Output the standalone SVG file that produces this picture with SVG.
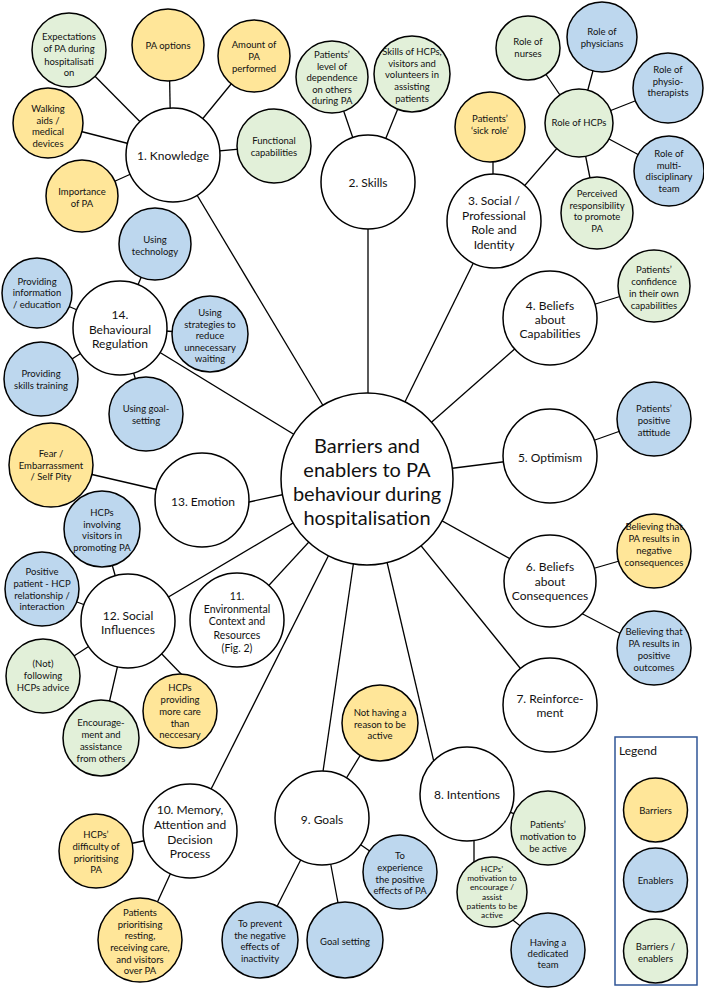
<svg xmlns="http://www.w3.org/2000/svg" width="704" height="994" viewBox="0 0 704 994">
<style>
circle{stroke:#000;stroke-width:1.5}
.w{fill:#fff}.y{fill:#FFE699}.b{fill:#BDD7EE}.g{fill:#E2F0D9}
text{font-family:Lato,"Liberation Sans",sans-serif;text-anchor:middle;dominant-baseline:central;fill:#111}
.t1{font-size:20px}.t2{font-size:12px}.t3{font-size:9.5px}.t4{font-size:8.4px}.t5{font-size:10.5px}
#connectors line{stroke:#000;stroke-width:1.3}
</style>
<rect width="704" height="994" fill="#fff"/>
<g id="connectors">
<line x1="173" y1="155" x2="367" y2="479"/>
<line x1="368" y1="182" x2="368" y2="479"/>
<line x1="494" y1="221" x2="367" y2="479"/>
<line x1="550" y1="318" x2="367" y2="479"/>
<line x1="550" y1="456" x2="367" y2="479"/>
<line x1="550" y1="581" x2="367" y2="479"/>
<line x1="550" y1="705" x2="367" y2="479"/>
<line x1="383" y1="545" x2="437" y2="775"/>
<line x1="356" y1="546" x2="321" y2="785"/>
<line x1="190" y1="831" x2="367" y2="479"/>
<line x1="237" y1="620" x2="367" y2="479"/>
<line x1="128" y1="621" x2="367" y2="479"/>
<line x1="295" y1="492" x2="240" y2="504"/>
<line x1="120" y1="328" x2="367" y2="479"/>
<line x1="69" y1="50" x2="173" y2="155"/>
<line x1="169" y1="45" x2="171" y2="155"/>
<line x1="254" y1="56" x2="173" y2="155"/>
<line x1="48" y1="123" x2="173" y2="155"/>
<line x1="274" y1="146" x2="173" y2="155"/>
<line x1="82" y1="196" x2="173" y2="155"/>
<line x1="332" y1="77" x2="368" y2="182"/>
<line x1="412" y1="74" x2="368" y2="182"/>
<line x1="493" y1="127" x2="493" y2="221"/>
<line x1="579" y1="123" x2="494" y2="221"/>
<line x1="579" y1="123" x2="528" y2="48"/>
<line x1="579" y1="123" x2="602" y2="37"/>
<line x1="579" y1="123" x2="668" y2="88"/>
<line x1="579" y1="123" x2="669" y2="171"/>
<line x1="579" y1="123" x2="597" y2="213"/>
<line x1="550" y1="318" x2="654" y2="286"/>
<line x1="550" y1="456" x2="654" y2="419"/>
<line x1="550" y1="581" x2="654" y2="551"/>
<line x1="575" y1="610" x2="627" y2="637"/>
<line x1="467" y1="794" x2="548" y2="828"/>
<line x1="474" y1="835" x2="474" y2="862"/>
<line x1="500" y1="910" x2="528" y2="932"/>
<line x1="322" y1="818" x2="380" y2="723"/>
<line x1="322" y1="818" x2="400" y2="872"/>
<line x1="322" y1="818" x2="260" y2="940"/>
<line x1="322" y1="818" x2="345" y2="940"/>
<line x1="190" y1="831" x2="96" y2="851"/>
<line x1="190" y1="831" x2="140" y2="940"/>
<line x1="128" y1="621" x2="102" y2="529"/>
<line x1="128" y1="621" x2="42" y2="589"/>
<line x1="128" y1="621" x2="43" y2="676"/>
<line x1="128" y1="621" x2="101" y2="738"/>
<line x1="156" y1="648" x2="186" y2="679"/>
<line x1="202" y1="500" x2="51" y2="465"/>
<line x1="120" y1="328" x2="155" y2="244"/>
<line x1="120" y1="328" x2="37" y2="293"/>
<line x1="120" y1="328" x2="210" y2="334"/>
<line x1="120" y1="328" x2="41" y2="379"/>
<line x1="120" y1="328" x2="146" y2="414"/>
</g>

<g id="center"><circle class="w" cx="367" cy="479" r="86"/><text class="t1"><tspan x="367" y="445">Barriers and</tspan><tspan x="367" y="469">enablers to PA</tspan><tspan x="367" y="493">behaviour during</tspan><tspan x="367" y="517">hospitalisation</tspan></text></g>

<g id="c1"><circle class="w" cx="173" cy="155" r="47"/><text class="t2" x="173" y="155">1. Knowledge</text></g>
<g id="c2"><circle class="w" cx="368" cy="182" r="47"/><text class="t2" x="368" y="182">2. Skills</text></g>
<g id="c3"><circle class="w" cx="494" cy="221" r="47"/><text class="t2"><tspan x="494" y="200">3. Social /</tspan><tspan x="494" y="214.5">Professional</tspan><tspan x="494" y="229">Role and</tspan><tspan x="494" y="243.5">Identity</tspan></text></g>
<g id="c4"><circle class="w" cx="550" cy="318" r="47"/><text class="t2"><tspan x="550" y="305">4. Beliefs</tspan><tspan x="550" y="319">about</tspan><tspan x="550" y="333">Capabilities</tspan></text></g>
<g id="c5"><circle class="w" cx="550" cy="456" r="47"/><text class="t2" x="550" y="457">5. Optimism</text></g>
<g id="c6"><circle class="w" cx="550" cy="581" r="46"/><text class="t2"><tspan x="550" y="566">6. Beliefs</tspan><tspan x="550" y="581">about</tspan><tspan x="550" y="595">Consequences</tspan></text></g>
<g id="c7"><circle class="w" cx="550" cy="705" r="47"/><text class="t2"><tspan x="550" y="698">7. Reinforce-</tspan><tspan x="550" y="712">ment</tspan></text></g>
<g id="c8"><circle class="w" cx="467" cy="794" r="47"/><text class="t2" x="467" y="794">8. Intentions</text></g>
<g id="c9"><circle class="w" cx="322" cy="818" r="47"/><text class="t2" x="322" y="819">9. Goals</text></g>
<g id="c10"><circle class="w" cx="190" cy="831" r="47"/><text class="t2"><tspan x="190" y="809">10. Memory,</tspan><tspan x="190" y="824">Attention and</tspan><tspan x="190" y="839">Decision</tspan><tspan x="190" y="853">Process</tspan></text></g>
<g id="c11"><circle class="w" cx="237" cy="620" r="47"/><text class="t5"><tspan x="237" y="596">11.</tspan><tspan x="237" y="608.5">Environmental</tspan><tspan x="237" y="621">Context and</tspan><tspan x="237" y="634.5">Resources</tspan><tspan x="237" y="647.5">(Fig. 2)</tspan></text></g>
<g id="c12"><circle class="w" cx="128" cy="621" r="47"/><text class="t2"><tspan x="128" y="615">12. Social</tspan><tspan x="128" y="628.5">Influences</tspan></text></g>
<g id="c13"><circle class="w" cx="202" cy="500" r="47"/><text class="t2" x="203" y="501">13. Emotion</text></g>
<g id="c14"><circle class="w" cx="120" cy="328" r="47"/><text class="t2"><tspan x="120" y="314">14.</tspan><tspan x="120" y="328.5">Behavioural</tspan><tspan x="120" y="343">Regulation</tspan></text></g>

<g id="k1"><circle class="g" cx="69" cy="50" r="37"/><text class="t3"><tspan x="69" y="36">Expectations</tspan><tspan x="69" y="48">of PA during</tspan><tspan x="69" y="60.5">hospitalisati</tspan><tspan x="69" y="72">on</tspan></text></g>
<g id="k2"><circle class="y" cx="168" cy="45" r="36"/><text class="t3" x="168" y="45">PA options</text></g>
<g id="k3"><circle class="y" cx="254" cy="56" r="36"/><text class="t3"><tspan x="254" y="44">Amount of</tspan><tspan x="254" y="56">PA</tspan><tspan x="254" y="68">performed</tspan></text></g>
<g id="k4"><circle class="y" cx="48" cy="123" r="35"/><text class="t3"><tspan x="48" y="108">Walking</tspan><tspan x="48" y="119.5">aids /</tspan><tspan x="48" y="131">medical</tspan><tspan x="48" y="143">devices</tspan></text></g>
<g id="k5"><circle class="g" cx="274" cy="146" r="37"/><text class="t3"><tspan x="274" y="140">Functional</tspan><tspan x="274" y="152">capabilities</tspan></text></g>
<g id="k6"><circle class="y" cx="82" cy="196" r="36"/><text class="t3"><tspan x="82" y="191">Importance</tspan><tspan x="82" y="203">of PA</tspan></text></g>

<g id="s1"><circle class="g" cx="332" cy="77" r="36"/><text class="t3"><tspan x="332" y="54">Patients’</tspan><tspan x="332" y="65.5">level of</tspan><tspan x="332" y="77">dependence</tspan><tspan x="332" y="88.5">on others</tspan><tspan x="332" y="100">during PA</tspan></text></g>
<g id="s2"><circle class="g" cx="412" cy="74" r="38"/><text class="t3"><tspan x="412" y="51">Skills of HCPs,</tspan><tspan x="412" y="62.5">visitors and</tspan><tspan x="412" y="74">volunteers in</tspan><tspan x="412" y="86">assisting</tspan><tspan x="412" y="97.5">patients</tspan></text></g>

<g id="r0"><circle class="g" cx="579" cy="123" r="34"/><text class="t3" x="579" y="122">Role of HCPs</text></g>
<g id="r1"><circle class="g" cx="528" cy="48" r="32"/><text class="t3"><tspan x="528" y="41">Role of</tspan><tspan x="528" y="52.5">nurses</tspan></text></g>
<g id="r2"><circle class="b" cx="602" cy="37" r="35"/><text class="t3"><tspan x="602" y="31">Role of</tspan><tspan x="602" y="43">physicians</tspan></text></g>
<g id="r3"><circle class="b" cx="668" cy="88" r="35"/><text class="t3"><tspan x="668" y="68.5">Role of</tspan><tspan x="668" y="80.5">physio-</tspan><tspan x="668" y="92">therapists</tspan></text></g>
<g id="r4"><circle class="b" cx="669" cy="171" r="35"/><text class="t3"><tspan x="669" y="153">Role of</tspan><tspan x="669" y="164.5">multi-</tspan><tspan x="669" y="176">disciplinary</tspan><tspan x="669" y="188">team</tspan></text></g>
<g id="r5"><circle class="g" cx="597" cy="213" r="36"/><text class="t3"><tspan x="597" y="193">Perceived</tspan><tspan x="597" y="204.5">responsibility</tspan><tspan x="597" y="216">to promote</tspan><tspan x="597" y="227.5">PA</tspan></text></g>
<g id="r6"><circle class="y" cx="490" cy="127" r="35"/><text class="t3"><tspan x="490" y="118">Patients’</tspan><tspan x="490" y="130">‘sick role’</tspan></text></g>

<g id="b4"><circle class="g" cx="654" cy="286" r="36"/><text class="t3"><tspan x="654" y="269">Patients’</tspan><tspan x="654" y="281">confidence</tspan><tspan x="654" y="293">in their own</tspan><tspan x="654" y="304.5">capabilities</tspan></text></g>
<g id="o5"><circle class="b" cx="654" cy="419" r="37"/><text class="t3"><tspan x="654" y="408">Patients’</tspan><tspan x="654" y="420">positive</tspan><tspan x="654" y="432">attitude</tspan></text></g>
<g id="b6a"><circle class="y" cx="654" cy="551" r="37"/><text class="t3"><tspan x="654" y="526">Believing that</tspan><tspan x="654" y="538">PA results in</tspan><tspan x="654" y="550">negative</tspan><tspan x="654" y="562">consequences</tspan></text></g>
<g id="b6b"><circle class="b" cx="654" cy="648" r="37"/><text class="t3"><tspan x="654" y="631">Believing that</tspan><tspan x="654" y="643">PA results in</tspan><tspan x="654" y="655">positive</tspan><tspan x="654" y="667">outcomes</tspan></text></g>

<g id="i8a"><circle class="g" cx="548" cy="828" r="37"/><text class="t3"><tspan x="548" y="824">Patients’</tspan><tspan x="548" y="836">motivation to</tspan><tspan x="548" y="848">be active</tspan></text></g>
<g id="i8b"><circle class="g" cx="492" cy="892" r="35"/><text class="t4"><tspan x="492" y="869">HCPs’</tspan><tspan x="492" y="878.2">motivation to</tspan><tspan x="492" y="887.4">encourage /</tspan><tspan x="492" y="896.6">assist</tspan><tspan x="492" y="905.8">patients to be</tspan><tspan x="492" y="915">active</tspan></text></g>
<g id="i8c"><circle class="b" cx="548" cy="950" r="37"/><text class="t3"><tspan x="548" y="942">Having a</tspan><tspan x="548" y="953">dedicated</tspan><tspan x="548" y="964">team</tspan></text></g>

<g id="g9a"><circle class="y" cx="380" cy="723" r="38"/><text class="t3"><tspan x="380" y="712">Not having a</tspan><tspan x="380" y="723.5">reason to be</tspan><tspan x="380" y="735">active</tspan></text></g>
<g id="g9b"><circle class="b" cx="400" cy="872" r="37"/><text class="t3"><tspan x="400" y="855">To</tspan><tspan x="400" y="867">experience</tspan><tspan x="400" y="878.5">the positive</tspan><tspan x="400" y="890">effects of PA</tspan></text></g>
<g id="g9c"><circle class="b" cx="260" cy="940" r="38"/><text class="t3"><tspan x="260" y="923">To prevent</tspan><tspan x="260" y="934.5">the negative</tspan><tspan x="260" y="946">effects of</tspan><tspan x="260" y="958">inactivity</tspan></text></g>
<g id="g9d"><circle class="b" cx="345" cy="940" r="38"/><text class="t3" x="345" y="941">Goal setting</text></g>

<g id="m10a"><circle class="y" cx="96" cy="851" r="37"/><text class="t3"><tspan x="96" y="834">HCPs’</tspan><tspan x="96" y="846">difficulty of</tspan><tspan x="96" y="857.5">prioritising</tspan><tspan x="96" y="869">PA</tspan></text></g>
<g id="m10b"><circle class="y" cx="140" cy="940" r="42"/><text class="t3"><tspan x="140" y="912">Patients</tspan><tspan x="140" y="923.5">prioritising</tspan><tspan x="140" y="935">resting,</tspan><tspan x="140" y="947">receiving care,</tspan><tspan x="140" y="958.5">and visitors</tspan><tspan x="140" y="970">over PA</tspan></text></g>

<g id="s12a"><circle class="b" cx="102" cy="529" r="38"/><text class="t3"><tspan x="102" y="512">HCPs</tspan><tspan x="102" y="523.5">involving</tspan><tspan x="102" y="535">visitors in</tspan><tspan x="102" y="547">promoting PA</tspan></text></g>
<g id="s12b"><circle class="b" cx="42" cy="589" r="37"/><text class="t3"><tspan x="42" y="571">Positive</tspan><tspan x="42" y="583">patient - HCP</tspan><tspan x="42" y="594.5">relationship /</tspan><tspan x="42" y="606">interaction</tspan></text></g>
<g id="s12c"><circle class="g" cx="43" cy="676" r="37"/><text class="t3"><tspan x="43" y="663">(Not)</tspan><tspan x="43" y="675">following</tspan><tspan x="43" y="687">HCPs advice</tspan></text></g>
<g id="s12d"><circle class="g" cx="101" cy="738" r="38"/><text class="t3"><tspan x="101" y="722">Encourage-</tspan><tspan x="101" y="734">ment and</tspan><tspan x="101" y="746">assistance</tspan><tspan x="101" y="757.5">from others</tspan></text></g>
<g id="s12e"><circle class="y" cx="180" cy="711" r="37"/><text class="t3"><tspan x="180" y="687">HCPs</tspan><tspan x="180" y="699">providing</tspan><tspan x="180" y="711">more care</tspan><tspan x="180" y="722.5">than</tspan><tspan x="180" y="734">neccesary</tspan></text></g>

<g id="e13"><circle class="y" cx="51" cy="465" r="42"/><text class="t3"><tspan x="51" y="453">Fear /</tspan><tspan x="51" y="464.5">Embarrassment</tspan><tspan x="51" y="476">/ Self Pity</tspan></text></g>

<g id="br14a"><circle class="b" cx="155" cy="244" r="36"/><text class="t3"><tspan x="155" y="239">Using</tspan><tspan x="155" y="251">technology</tspan></text></g>
<g id="br14b"><circle class="b" cx="37" cy="293" r="35"/><text class="t3"><tspan x="37" y="281">Providing</tspan><tspan x="37" y="292">information</tspan><tspan x="37" y="303.5">/ education</tspan></text></g>
<g id="br14c"><circle class="b" cx="210" cy="334" r="38"/><text class="t3"><tspan x="210" y="312">Using</tspan><tspan x="210" y="323.5">strategies to</tspan><tspan x="210" y="335">reduce</tspan><tspan x="210" y="347">unnecessary</tspan><tspan x="210" y="358">waiting</tspan></text></g>
<g id="br14d"><circle class="b" cx="41" cy="379" r="37"/><text class="t3"><tspan x="41" y="373">Providing</tspan><tspan x="41" y="384.5">skills training</tspan></text></g>
<g id="br14e"><circle class="b" cx="146" cy="414" r="37"/><text class="t3"><tspan x="146" y="408">Using goal-</tspan><tspan x="146" y="420">setting</tspan></text></g>

<g id="legend">
<rect x="615" y="737" width="82" height="248" fill="#fff" stroke="#2F5597" stroke-width="1.5"/>
<text class="t2" x="619" y="750" style="text-anchor:start">Legend</text>
<circle class="y" cx="655.5" cy="810" r="32"/><text class="t3" x="655.5" y="810">Barriers</text>
<circle class="b" cx="655.5" cy="880" r="32"/><text class="t3" x="655.5" y="880">Enablers</text>
<circle class="g" cx="655.5" cy="951" r="32"/><text class="t3"><tspan x="655.5" y="946">Barriers /</tspan><tspan x="655.5" y="958">enablers</tspan></text>
</g>
</svg>
